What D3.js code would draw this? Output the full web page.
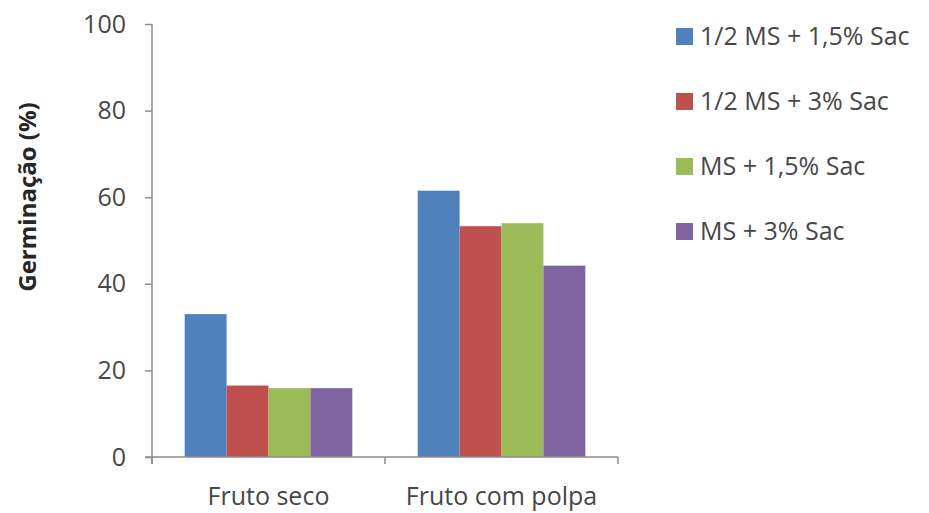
<!DOCTYPE html>
<html>
<head>
<meta charset="utf-8">
<script src="https://cdn.jsdelivr.net/npm/d3@7/dist/d3.min.js"></script>
<style>
  html, body { margin: 0; padding: 0; background: #fff; }
  svg { display: block; }
  text { font-family: "Open Sans", "Liberation Sans", sans-serif; }
</style>
</head>
<body>
<svg id="chart" width="929" height="513"></svg>
<script>
// Germination (%) by fruit type and culture medium
const categories = ["Fruto seco", "Fruto com polpa"];
const seriesNames = ["1/2 MS + 1,5% Sac", "1/2 MS + 3% Sac", "MS + 1,5% Sac", "MS + 3% Sac"];
const seriesColors = ["#4F81BD", "#C0504D", "#9BBB59", "#8064A2"];
const series1 = [33.0, 61.5];  // 1/2 MS + 1,5% Sac
const series2 = [16.5, 53.3];  // 1/2 MS + 3% Sac
const series3 = [15.9, 54.0];  // MS + 1,5% Sac
const series4 = [15.9, 44.2];  // MS + 3% Sac
const yTicks = [0, 20, 40, 60, 80, 100];

const seriesValues = [series1, series2, series3, series4];

const svg = d3.select("#chart");
const plot = { left: 152, right: 618, top: 24, bottom: 457 };
const axisColor = "#8C8C8C";
const textColor = "#474747";

const y = d3.scaleLinear().domain([0, 100]).range([plot.bottom, plot.top]);
const x0 = d3.scaleBand().domain(categories).range([plot.left, plot.right]).paddingInner(0).paddingOuter(0);
const x1 = d3.scaleBand().domain(seriesNames).range([0, x0.bandwidth()]).paddingInner(0).paddingOuter(0.78);

// bars
const groups = svg.append("g").selectAll("g")
  .data(categories)
  .join("g")
  .attr("transform", d => `translate(${x0(d)},0)`);

groups.selectAll("rect")
  .data((c, ci) => seriesNames.map((s, si) => ({ s, si, v: seriesValues[si][ci] })))
  .join("rect")
  .attr("x", d => x1(d.s))
  .attr("width", x1.bandwidth())
  .attr("y", d => y(d.v))
  .attr("height", d => y(0) - y(d.v))
  .attr("fill", d => seriesColors[d.si]);

// y axis
const yAxis = svg.append("g")
  .attr("transform", `translate(${plot.left},0)`)
  .call(d3.axisLeft(y).tickValues(yTicks).tickSize(7).tickSizeOuter(0).tickPadding(19));
yAxis.select(".domain").attr("stroke", axisColor).attr("stroke-width", 1.5)
  .attr("d", `M0,${plot.bottom + 7}V${plot.top}`);
yAxis.selectAll(".tick line").attr("stroke", axisColor).attr("stroke-width", 1.5);
yAxis.selectAll(".tick text").attr("fill", textColor).attr("font-size", 25);

// x axis
const xAxis = svg.append("g")
  .attr("transform", `translate(0,${plot.bottom})`);
xAxis.append("line")
  .attr("x1", plot.left - 7).attr("x2", plot.right)
  .attr("stroke", axisColor).attr("stroke-width", 1.5);
const boundaries = [plot.left, ...categories.slice(1).map(c => x0(c)), plot.right];
xAxis.selectAll("line.tk")
  .data(boundaries)
  .join("line")
  .attr("class", "tk")
  .attr("x1", d => d).attr("x2", d => d)
  .attr("y1", 0).attr("y2", 7)
  .attr("stroke", axisColor).attr("stroke-width", 1.5);
xAxis.selectAll("text")
  .data(categories)
  .join("text")
  .attr("x", d => x0(d) + x0.bandwidth() / 2)
  .attr("y", 48)
  .attr("text-anchor", "middle")
  .attr("fill", textColor)
  .attr("font-size", 25)
  .text(d => d);

// y axis title
svg.append("text")
  .attr("transform", `translate(36,197) rotate(-90)`)
  .attr("text-anchor", "middle")
  .attr("font-weight", "bold")
  .attr("font-size", 24)
  .attr("fill", "#262626")
  .text("Germinação (%)");

// legend
const legend = svg.append("g").attr("transform", "translate(676,36)");
const items = legend.selectAll("g")
  .data(seriesNames)
  .join("g")
  .attr("transform", (d, i) => `translate(0,${i * 65})`);
items.append("rect")
  .attr("x", 0).attr("y", -8)
  .attr("width", 17).attr("height", 17)
  .attr("fill", (d, i) => seriesColors[i]);
items.append("text")
  .attr("x", 24).attr("y", 0)
  .attr("dy", "0.35em")
  .attr("fill", textColor)
  .attr("font-size", 25)
  .text(d => d);
</script>
</body>
</html>
